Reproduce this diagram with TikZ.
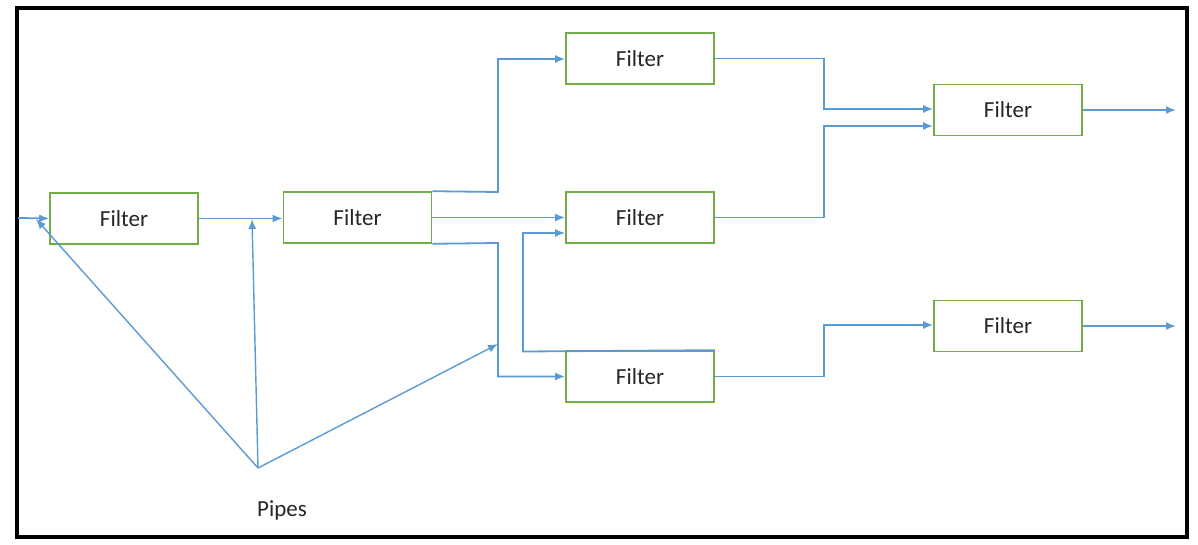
\documentclass[tikz,border=0pt]{standalone}
\usepackage{fontspec}
\setmainfont{Carlito}
\usetikzlibrary{arrows.meta}
\definecolor{pipeblue}{HTML}{5B9BD5}
\definecolor{filtergreen}{HTML}{70AD47}
\definecolor{textgray}{HTML}{262626}
\begin{document}
\begin{tikzpicture}[x=1pt,y=-1pt,
  filterbox/.style={draw=filtergreen,line width=1.6pt,minimum width=148pt,minimum height=51pt,
    inner sep=0pt,font=\fontsize{23}{27}\selectfont,text=textgray},
  pipe/.style={draw=pipeblue,line width=1.8pt,-{Latex[length=10pt,width=8pt]}},
  lbl/.style={font=\fontsize{23}{27}\selectfont,text=textgray}]
  \useasboundingbox (0,0) rectangle (1198,545);
  \fill[white] (0,0) rectangle (1198,545);
  \draw[line width=4pt] (17,8) rectangle (1187,537);

  % filters
  \node[filterbox] (f1) at (124,218.5) {Filter};
  \node[filterbox] (f2) at (357.5,217.5) {Filter};
  \node[filterbox] (f3) at (640,58.5) {Filter};
  \node[filterbox] (f4) at (640,217.5) {Filter};
  \node[filterbox] (f5) at (640,376.5) {Filter};
  \node[filterbox] (f6) at (1008,110) {Filter};
  \node[filterbox] (f7) at (1008,326) {Filter};

  % free ends
  \coordinate (in) at (18,218);
  \coordinate (out1) at (1176,110);
  \coordinate (out2) at (1176,326);

  % pipes between filters
  \draw[pipe] (in) -- (f1.west);
  \draw[pipe] (f1.east) -- ([yshift=-1pt]f2.west);
  \draw[pipe] (f2.north east) -- (498,192) |- ([yshift=-0.5pt]f3.west);
  \draw[pipe] (f2.east) -- (f4.west);
  \draw[pipe] (f2.south east) -- (498,243) |- (f5.west);
  \draw[pipe] (f5.north east) -- (523,351.5) |- ([yshift=-15.5pt]f4.west);
  \draw[pipe] (f3.east) -- (824,58.5) |- ([yshift=1pt]f6.west);
  \draw[pipe] (f4.east) -- (824,217.5) |- ([yshift=-16pt]f6.west);
  \draw[pipe] (f5.east) -- (824,376.5) |- ([yshift=1pt]f7.west);
  \draw[pipe] (f6.east) -- (out1);
  \draw[pipe] (f7.east) -- (out2);

  % label and pointers
  \node[lbl] (pipes) at (282,510) {Pipes};
  \coordinate (p) at (258,468);
  \coordinate (a1) at (36,219);
  \coordinate (a2) at (252,219);
  \coordinate (a3) at (498,344);
  \draw[pipe,line width=1.4pt] (p) -- (a1);
  \draw[pipe,line width=1.4pt] (p) -- (a2);
  \draw[pipe,line width=1.4pt] (p) -- (a3);
\end{tikzpicture}
\end{document}
